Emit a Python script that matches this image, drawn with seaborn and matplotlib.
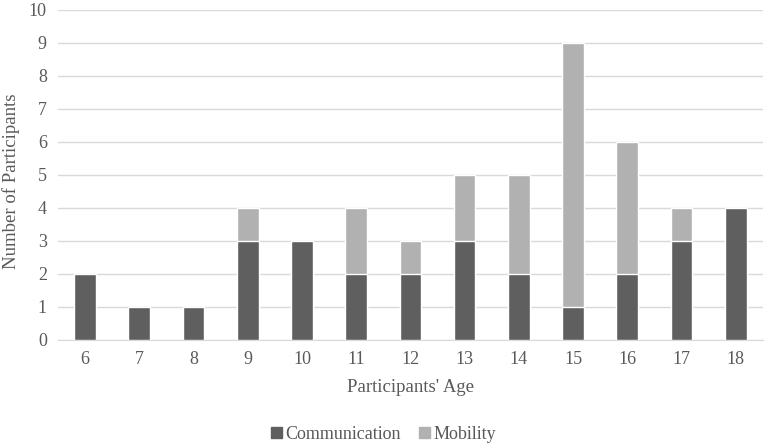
import numpy as np
import pandas as pd
import matplotlib
matplotlib.use("Agg")
import matplotlib.pyplot as plt
import seaborn as sns
from matplotlib.patches import Patch

ages = [6, 7, 8, 9, 10, 11, 12, 13, 14, 15, 16, 17, 18]
communication = [2, 1, 1, 3, 3, 2, 2, 3, 2, 1, 2, 3, 4]
mobility = [0, 0, 0, 1, 0, 2, 1, 2, 3, 8, 4, 1, 0]

DARK = "#5f5f5f"
LIGHT = "#b1b1b1"

sns.set_style("white")
plt.rcParams["font.family"] = ["Liberation Serif", "DejaVu Serif"]

df = pd.DataFrame({"age": [str(a) for a in ages],
                   "communication": communication,
                   "mobility": mobility})
df["total"] = df["communication"] + df["mobility"]

fig = plt.figure(figsize=(7.67, 4.46), dpi=100)
ax = fig.add_axes([0.0756, 0.238, 0.919, 0.74])

# stacked: total (light) behind, communication (dark) in front
sns.barplot(data=df, x="age", y="total", color=LIGHT, width=0.4,
            saturation=1, ax=ax, zorder=3)
sns.barplot(data=df, x="age", y="communication", color=DARK, width=0.4,
            saturation=1, ax=ax, zorder=4)

ax.set_ylim(0, 10)
ax.set_yticks(range(0, 11))
ax.set_xlim(-0.5, len(ages) - 0.5)
ax.yaxis.grid(True, color="#d9d9d9", linewidth=1, zorder=0)
ax.set_axisbelow(True)
for s in ["top", "right", "left"]:
    ax.spines[s].set_visible(False)
ax.spines["bottom"].set_color("#d9d9d9")
ax.tick_params(axis="both", length=0, labelsize=13, colors="#595959", pad=8)

ax.set_xlabel("Participants' Age", fontsize=13.5, color="#595959", labelpad=8)
ax.set_ylabel("Number of Participants", fontsize=13.5, color="#595959")
ax.yaxis.set_label_coords(-0.054, 0.48)

handles = [Patch(color=DARK, label="Communication"),
           Patch(color=LIGHT, label="Mobility")]
fig.legend(handles=handles, loc="lower center", bbox_to_anchor=(0.5, -0.03),
           ncol=2, frameon=False, fontsize=13, handlelength=0.6,
           handleheight=0.6, handletextpad=0.2, columnspacing=1.0,
           labelcolor="#595959")

fig.savefig("out.png", dpi=100)
